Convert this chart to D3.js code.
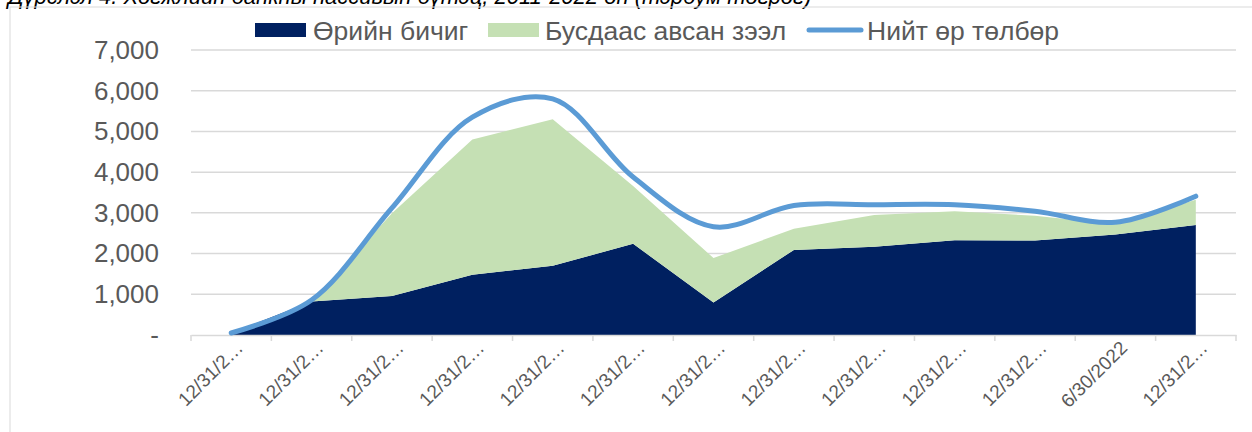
<!DOCTYPE html>
<html>
<head>
<meta charset="utf-8">
<script src="https://cdn.jsdelivr.net/npm/d3@7"></script>
<style>
body{margin:0;background:#fff;}
svg{display:block;font-family:"Liberation Sans",Arial,sans-serif;}
</style>
</head>
<body>
<svg id="chart"></svg>
<script>
var width=1252, height=432;

// огноо (ангилал)
var categories=['12/31/2011','12/31/2012','12/31/2013','12/31/2014','12/31/2015','12/31/2016',
    '12/31/2017','12/31/2018','12/31/2019','12/31/2020','12/31/2021','6/30/2022','12/31/2022'];
// Өрийн бичиг
var bonds=[50,820,960,1480,1700,2240,800,2090,2170,2330,2320,2470,2700];
// Бусдаас авсан зээл
var loans=[0,0,2030,3320,3600,1420,1090,520,780,710,610,250,620];
// Нийт өр төлбөр
var total=[50,860,3120,5350,5800,3880,2660,3180,3200,3200,3040,2770,3410];
var yTicks=[0,1000,2000,3000,4000,5000,6000,7000];

var seriesNames=['Өрийн бичиг','Бусдаас авсан зээл','Нийт өр төлбөр'];
var colors={bond:'#002060',loan:'#c5e0b4',line:'#5b9bd5'};

var svg=d3.select('#chart').attr('width',width).attr('height',height);

// гарчиг (дээд хэсэг нь тасарсан)
svg.append('text')
    .attr('x',8).attr('y',4)
    .attr('font-size',22).attr('font-style','italic')
    .attr('fill','#000')
    .text('Дүрслэл 4. Хөгжлийн банкны пассивын бүтэц, 2011-2022 он (тэрбум төгрөг)');

// хүрээ
svg.append('rect')
    .attr('x',10).attr('y',7).attr('width',1260).attr('height',440)
    .attr('fill','none').attr('stroke','#d9d9d9').attr('stroke-width',1);

var xScale=d3.scaleBand().domain(categories).range([191,1236]).padding(0);
var yScale=d3.scaleLinear().domain([0,7000]).range([335,50]);
var cx=function(i){return xScale(categories[i])+xScale.bandwidth()/2;};

// grid
svg.append('g').selectAll('line')
    .data(yTicks.slice(1))
    .enter().append('line')
    .attr('x1',191).attr('x2',1236)
    .attr('y1',function(d){return yScale(d);})
    .attr('y2',function(d){return yScale(d);})
    .attr('stroke','#d9d9d9').attr('stroke-width',1.5);

// y axis labels
var yAxis=d3.axisLeft(yScale).tickValues(yTicks).tickSize(0).tickPadding(0)
    .tickFormat(function(d){return d===0?'-':d3.format(',')(d);});
var gy=svg.append('g').attr('transform','translate(159,0)').call(yAxis);
gy.select('.domain').remove();
gy.selectAll('text').attr('font-size',26).attr('fill','#595959')
    .attr('font-family','"Liberation Sans",Arial,sans-serif');

// stacked areas
var rows=categories.map(function(c,i){return {bond:bonds[i],loan:loans[i]};});
var stack=d3.stack().keys(['bond','loan']);
var layers=stack(rows);
var area=d3.area()
    .x(function(d,i){return cx(i);})
    .y0(function(d){return yScale(d[0]);})
    .y1(function(d){return yScale(d[1]);});
svg.append('g').selectAll('path')
    .data(layers)
    .enter().append('path')
    .attr('d',area)
    .attr('fill',function(d){return colors[d.key];});

// x axis
var xAxis=d3.axisBottom(xScale).tickSize(0).tickFormat('');
var gx=svg.append('g').attr('transform','translate(0,335)').call(xAxis);
gx.select('.domain').attr('stroke','#d9d9d9').attr('stroke-width',1.5);
svg.append('g').selectAll('line')
    .data(categories.concat(['end']))
    .enter().append('line')
    .attr('x1',function(d,i){return 191+i*xScale.bandwidth();})
    .attr('x2',function(d,i){return 191+i*xScale.bandwidth();})
    .attr('y1',335).attr('y2',341)
    .attr('stroke','#d9d9d9').attr('stroke-width',1.5);

svg.append('g').selectAll('text')
    .data(categories)
    .enter().append('text')
    .attr('transform',function(d,i){return 'translate('+(cx(i)+13)+',349) rotate(-45)';})
    .attr('text-anchor','end')
    .attr('font-size',19).attr('fill','#595959')
    .text(function(d){return d.length>9?d.slice(0,7)+'…':d;});

// line
var line=d3.line()
    .x(function(d,i){return cx(i);})
    .y(function(d){return yScale(d);})
    .curve(d3.curveCatmullRom.alpha(0.5));
svg.append('path')
    .attr('d',line(total))
    .attr('fill','none')
    .attr('stroke',colors.line)
    .attr('stroke-width',5)
    .attr('stroke-linecap','round');

// legend
var lg=svg.append('g').attr('font-size',26.5).attr('fill','#595959');
lg.append('rect').attr('x',255).attr('y',23).attr('width',51).attr('height',14).attr('fill',colors.bond);
lg.append('text').attr('x',313).attr('y',40).text(seriesNames[0]);
lg.append('rect').attr('x',488).attr('y',23).attr('width',51).attr('height',14).attr('fill',colors.loan);
lg.append('text').attr('x',545).attr('y',40).text(seriesNames[1]);
lg.append('line').attr('x1',809).attr('x2',861).attr('y1',30).attr('y2',30)
    .attr('stroke',colors.line).attr('stroke-width',5).attr('stroke-linecap','round');
lg.append('text').attr('x',867).attr('y',40).text(seriesNames[2]);
</script>
</body>
</html>
